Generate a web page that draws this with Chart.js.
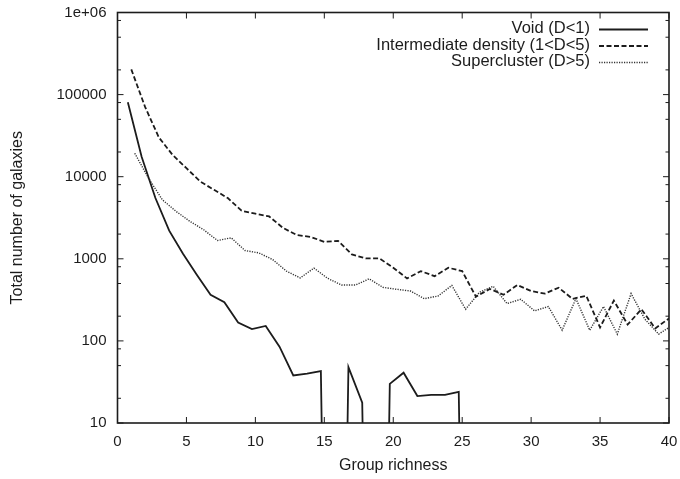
<!DOCTYPE html>
<html>
<head>
<meta charset="utf-8">
<script src="https://cdn.jsdelivr.net/npm/chart.js@4/dist/chart.umd.min.js"></script>
<style>
  html, body { margin: 0; padding: 0; background: #fff; }
  #wrap { width: 680px; height: 479px; }
</style>
</head>
<body>
<div id="wrap"><canvas id="galaxyChart"></canvas></div>
<script>
// empty bin: gnuplot drops the line straight below the axis
const NONE = 1e-9;

const voidRichness = [0.75, 1.75, 2.75, 3.75, 4.75, 5.75, 6.75, 7.75, 8.75, 9.75,
  10.75, 11.75, 12.75, 13.75, 14.75, 15.75, 16.75, 17.75, 18.75, 19.75,
  20.75, 21.75, 22.75, 23.75, 24.75, 25.75];
const voidCounts = [80500, 17500, 5500, 2200, 1150, 640, 365, 296, 167, 139,
  152, 85, 38, 40, 43, NONE, 48, 17.7, NONE, 30,
  41, 21.3, 22, 22, 24, NONE];

const interRichness = [1, 2, 3, 4, 5, 6, 7, 8, 9, 10, 11, 12, 13, 14, 15, 16, 17, 18, 19, 20,
  21, 22, 23, 24, 25, 26, 27, 28, 29, 30, 31, 32, 33, 34, 35, 36, 37, 38, 39, 40];
const interCounts = [203000, 70800, 30100, 18400, 12700, 8730, 6920, 5490, 3850, 3540,
  3280, 2380, 1950, 1850, 1610, 1650, 1130, 1010, 1010, 778,
  577, 708, 615, 778, 708, 345, 430, 365, 480, 405,
  377, 445, 325, 355, 146, 310, 158, 243, 142, 188];

const superRichness = [1.25, 2.25, 3.25, 4.25, 5.25, 6.25, 7.25, 8.25, 9.25, 10.25,
  11.25, 12.25, 13.25, 14.25, 15.25, 16.25, 17.25, 18.25, 19.25, 20.25,
  21.25, 22.25, 23.25, 24.25, 25.25, 26.25, 27.25, 28.25, 29.25, 30.25,
  31.25, 32.25, 33.25, 34.25, 35.25, 36.25, 37.25, 38.25, 39.25, 40.25];
const superCounts = [19300, 9600, 5240, 3780, 2860, 2260, 1670, 1800, 1260, 1180,
  980, 708, 585, 770, 577, 479, 479, 570, 449, 425,
  405, 327, 352, 474, 243, 390, 462, 285, 321, 232,
  262, 135, 327, 135, 262, 121, 377, 184, 121, 155];

const seriesLabels = ["Void (D<1)", "Intermediate density (1<D<5)", "Supercluster (D>5)"];
const xTickValues = [0, 5, 10, 15, 20, 25, 30, 35, 40];
const yTickValues = [10, 100, 1000, 10000, 100000, 1000000];
const yTickLabels = ["10", "100", "1000", "10000", "100000", "1e+06"];
const yMinorSteps = [2, 5, 8];

const INK = "#1c1c1c";
const FONT = "Liberation Sans, Arial, sans-serif";

function points(xs, ys) {
  return xs.map((x, i) => ({ x: x, y: ys[i] }));
}

// gnuplot style frame with inward tick marks on all four sides
const framePlugin = {
  id: "frame",
  afterDatasetsDraw(chart) {
    const { ctx, chartArea: a, scales } = chart;
    ctx.save();
    ctx.strokeStyle = INK;
    ctx.lineWidth = 1;
    ctx.beginPath();
    xTickValues.forEach((v) => {
      const px = scales.x.getPixelForValue(v);
      ctx.moveTo(px, a.bottom); ctx.lineTo(px, a.bottom - 6);
      ctx.moveTo(px, a.top); ctx.lineTo(px, a.top + 6);
    });
    yTickValues.forEach((v, i) => {
      const py = scales.y.getPixelForValue(v);
      ctx.moveTo(a.left, py); ctx.lineTo(a.left + 6, py);
      ctx.moveTo(a.right, py); ctx.lineTo(a.right - 6, py);
      if (i < yTickValues.length - 1) {
        yMinorSteps.forEach((m) => {
          const pm = scales.y.getPixelForValue(v * m);
          ctx.moveTo(a.left, pm); ctx.lineTo(a.left + 3.5, pm);
          ctx.moveTo(a.right, pm); ctx.lineTo(a.right - 3.5, pm);
        });
      }
    });
    ctx.stroke();
    ctx.lineWidth = 1.6;
    ctx.strokeRect(a.left, a.top, a.right - a.left, a.bottom - a.top);
    ctx.restore();
  }
};

// key in the top right corner: text right aligned, line sample after it
const keyPlugin = {
  id: "key",
  afterDraw(chart) {
    const { ctx, chartArea: a } = chart;
    ctx.save();
    ctx.font = "16.5px " + FONT;
    ctx.fillStyle = INK;
    ctx.textAlign = "right";
    ctx.textBaseline = "middle";
    chart.data.datasets.forEach((ds, i) => {
      const y = a.top + 16 + i * 16.5;
      ctx.fillText(ds.label, a.right - 79, y);
      ctx.beginPath();
      ctx.strokeStyle = ds.borderColor;
      ctx.lineWidth = ds.borderWidth;
      ctx.setLineDash(ds.borderDash || []);
      ctx.moveTo(a.right - 70, y + 1);
      ctx.lineTo(a.right - 21, y + 1);
      ctx.stroke();
    });
    ctx.restore();
  }
};

const chart = new Chart(document.getElementById("galaxyChart"), {
  type: "line",
  data: {
    datasets: [
      {
        label: seriesLabels[0],
        data: points(voidRichness, voidCounts),
        borderColor: INK,
        borderWidth: 1.8,
      },
      {
        label: seriesLabels[1],
        data: points(interRichness, interCounts),
        borderColor: INK,
        borderWidth: 1.8,
        borderDash: [5, 2.5],
      },
      {
        label: seriesLabels[2],
        data: points(superRichness, superCounts),
        borderColor: "#333",
        borderWidth: 1.4,
        borderDash: [1.2, 1.3],
      },
    ],
  },
  options: {
    animation: false,
    responsive: true,
    maintainAspectRatio: false,
    elements: { point: { radius: 0 }, line: { tension: 0 } },
    layout: { padding: { top: 12.5, right: 11, left: 0, bottom: 0 } },
    plugins: {
      legend: { display: false },
      tooltip: { enabled: false },
    },
    scales: {
      x: {
        type: "linear",
        min: 0,
        max: 40,
        grid: { display: false, drawTicks: false },
        border: { display: false },
        ticks: { stepSize: 5, color: INK, font: { family: FONT, size: 15 }, padding: 10, maxRotation: 0 },
        title: {
          display: true,
          text: "Group richness",
          color: INK,
          font: { family: FONT, size: 16 },
          padding: { top: 0, bottom: 4 },
        },
        afterFit: (scale) => {
          scale.height = 56;
          scale.paddingLeft = 0;
          scale.paddingRight = 0;
        },
      },
      y: {
        type: "logarithmic",
        min: 10,
        max: 1000000,
        grid: { display: false, drawTicks: false },
        border: { display: false },
        afterBuildTicks: (scale) => {
          scale.ticks = yTickValues.map((v) => ({ value: v }));
        },
        ticks: {
          color: INK,
          font: { family: FONT, size: 15 },
          padding: 11,
          callback: (value) => yTickLabels[yTickValues.indexOf(value)],
        },
        title: {
          display: true,
          text: "Total number of galaxies",
          color: INK,
          font: { family: FONT, size: 16 },
          padding: { top: 8, bottom: 0 },
        },
        afterFit: (scale) => {
          scale.width = 117.5;
          scale.paddingTop = 0;
          scale.paddingBottom = 0;
        },
      },
    },
  },
  plugins: [framePlugin, keyPlugin],
});
</script>
</body>
</html>
